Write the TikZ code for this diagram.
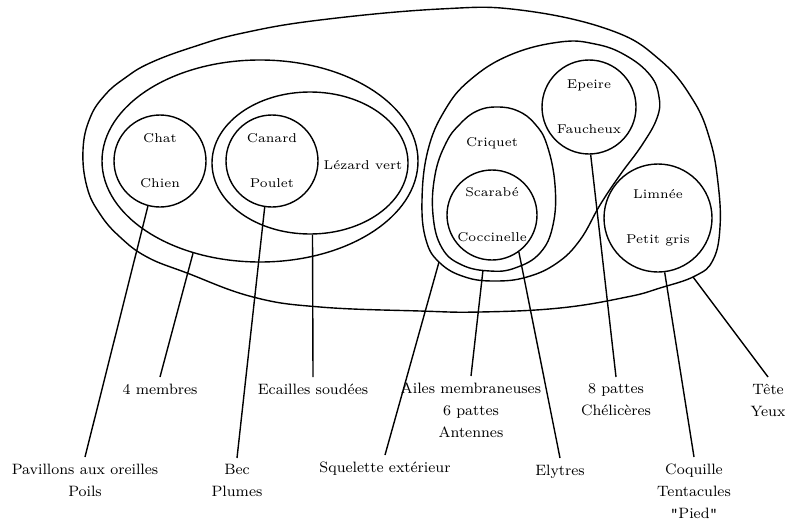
\documentclass[tikz,border=0pt]{standalone}
\usetikzlibrary{shapes.geometric}
\tikzset{
  espece/.style={draw,circle,inner sep=0pt,align=center,
                 font=\fontsize{6.4}{9}\selectfont},
  groupe/.style={draw,ellipse,inner sep=0pt},
  nom/.style={font=\fontsize{6.4}{9}\selectfont,align=center},
  caract/.style={font=\fontsize{7.5}{11}\selectfont,align=center,
                 anchor=north,inner sep=3pt},
  trait/.style={line width=0.7pt},
}

\begin{document}
\begin{tikzpicture}[x=0.5pt,y=-0.5pt,line width=0.7pt]
  \useasboundingbox (0,0) rectangle (785,519);

  %% Contours
  \draw plot[smooth cycle,tension=0.7] coordinates {(83,150) (90,118) (105,95)
    (125,78) (150,63) (193,47) (243,33) (320,20) (440,9) (520,10) (610,30)
    (660,60) (693,100) (710,140) (718,183) (720,227) (713,260) (695,276)
    (660,288) (627,297) (560,308) (480,312) (420,311) (320,307) (253,297)
    (187,273) (147,257) (120,237) (100,214) (87,187)};
  \draw plot[smooth cycle,tension=0.7] coordinates {(560,42) (510,55) (470,80)
    (445,110) (428,150) (422,200) (426,240) (440,263) (465,277) (495,281)
    (527,277) (557,263) (580,240) (600,205) (620,175) (642,145) (657,118)
    (659,97) (650,75) (625,55) (595,44)};
  \draw plot[smooth cycle,tension=0.7] coordinates {(497,107) (518,111)
    (535,124) (547,145) (555,185) (553,225) (540,253) (515,268) (490,271)
    (462,265) (442,248) (433,215) (435,175) (446,143) (460,124) (477,111)};
  \coordinate (animal) at (693,277);
  \coordinate (arthro) at (439,262);
  \coordinate (insecte) at (483,270);

  %% Vertebres
  \node[groupe,minimum width=158pt,minimum height=101pt] (vert) at (260,161) {};
  \node[groupe,minimum width=98pt,minimum height=71pt] (ecail) at (310,163) {};
  \node[espece,minimum size=46pt] (mam) at (160,161) {Chat\\[13.5pt]Chien};
  \node[espece,minimum size=46pt] (ois) at (272,161) {Canard\\[13.5pt]Poulet};
  \node[nom] (lez) at (363,165) {L\'ezard vert};

  %% Invertebres
  \node[nom] (criq) at (492,143) {Criquet};
  \node[espece,minimum size=45pt] (col) at (492,215) {Scarab\'e\\[13.5pt]Coccinelle};
  \node[espece,minimum size=47pt] (arach) at (589,107) {Epeire\\[13.5pt]Faucheux};
  \node[espece,minimum size=54pt] (mol) at (658,218) {Limn\'ee\\[13.5pt]Petit gris};

  %% Caracteres
  \node[caract] (pav) at (85,457) {Pavillons aux oreilles\\Poils};
  \node[caract] (memb) at (160,377) {4 membres};
  \node[caract] (bec) at (237,458) {Bec\\Plumes};
  \node[caract] (ecs) at (313,377) {Ecailles soud\'ees};
  \node[caract] (sq) at (385,455) {Squelette ext\'erieur};
  \node[caract] (ailes) at (471,376) {Ailes membraneuses\\6 pattes\\Antennes};
  \node[caract] (ely) at (560,458) {Elytres};
  \node[caract] (patt) at (616,377) {8 pattes\\Ch\'elic\`eres};
  \node[caract] (coq) at (694,457) {Coquille\\Tentacules\\\texttt{"}Pied\texttt{"}};
  \node[caract] (tete) at (768,377) {T\^ete\\Yeux};

  %% Traits
  \draw[trait] (mam.-105) -- (pav.north);
  \draw[trait] (vert.-126) -- (memb.north);
  \draw[trait] (ois.-99) -- (bec.north);
  \draw[trait] (ecail.-88) -- (ecs.north);
  \draw[trait] (arthro) -- (sq.north);
  \draw[trait] (insecte) -- (ailes.north);
  \draw[trait] (col.-54) -- (ely.north);
  \draw[trait] (arach.-88) -- (patt.north);
  \draw[trait] (mol.-83) -- (coq.north);
  \draw[trait] (animal) -- (tete.north);
\end{tikzpicture}
\end{document}
